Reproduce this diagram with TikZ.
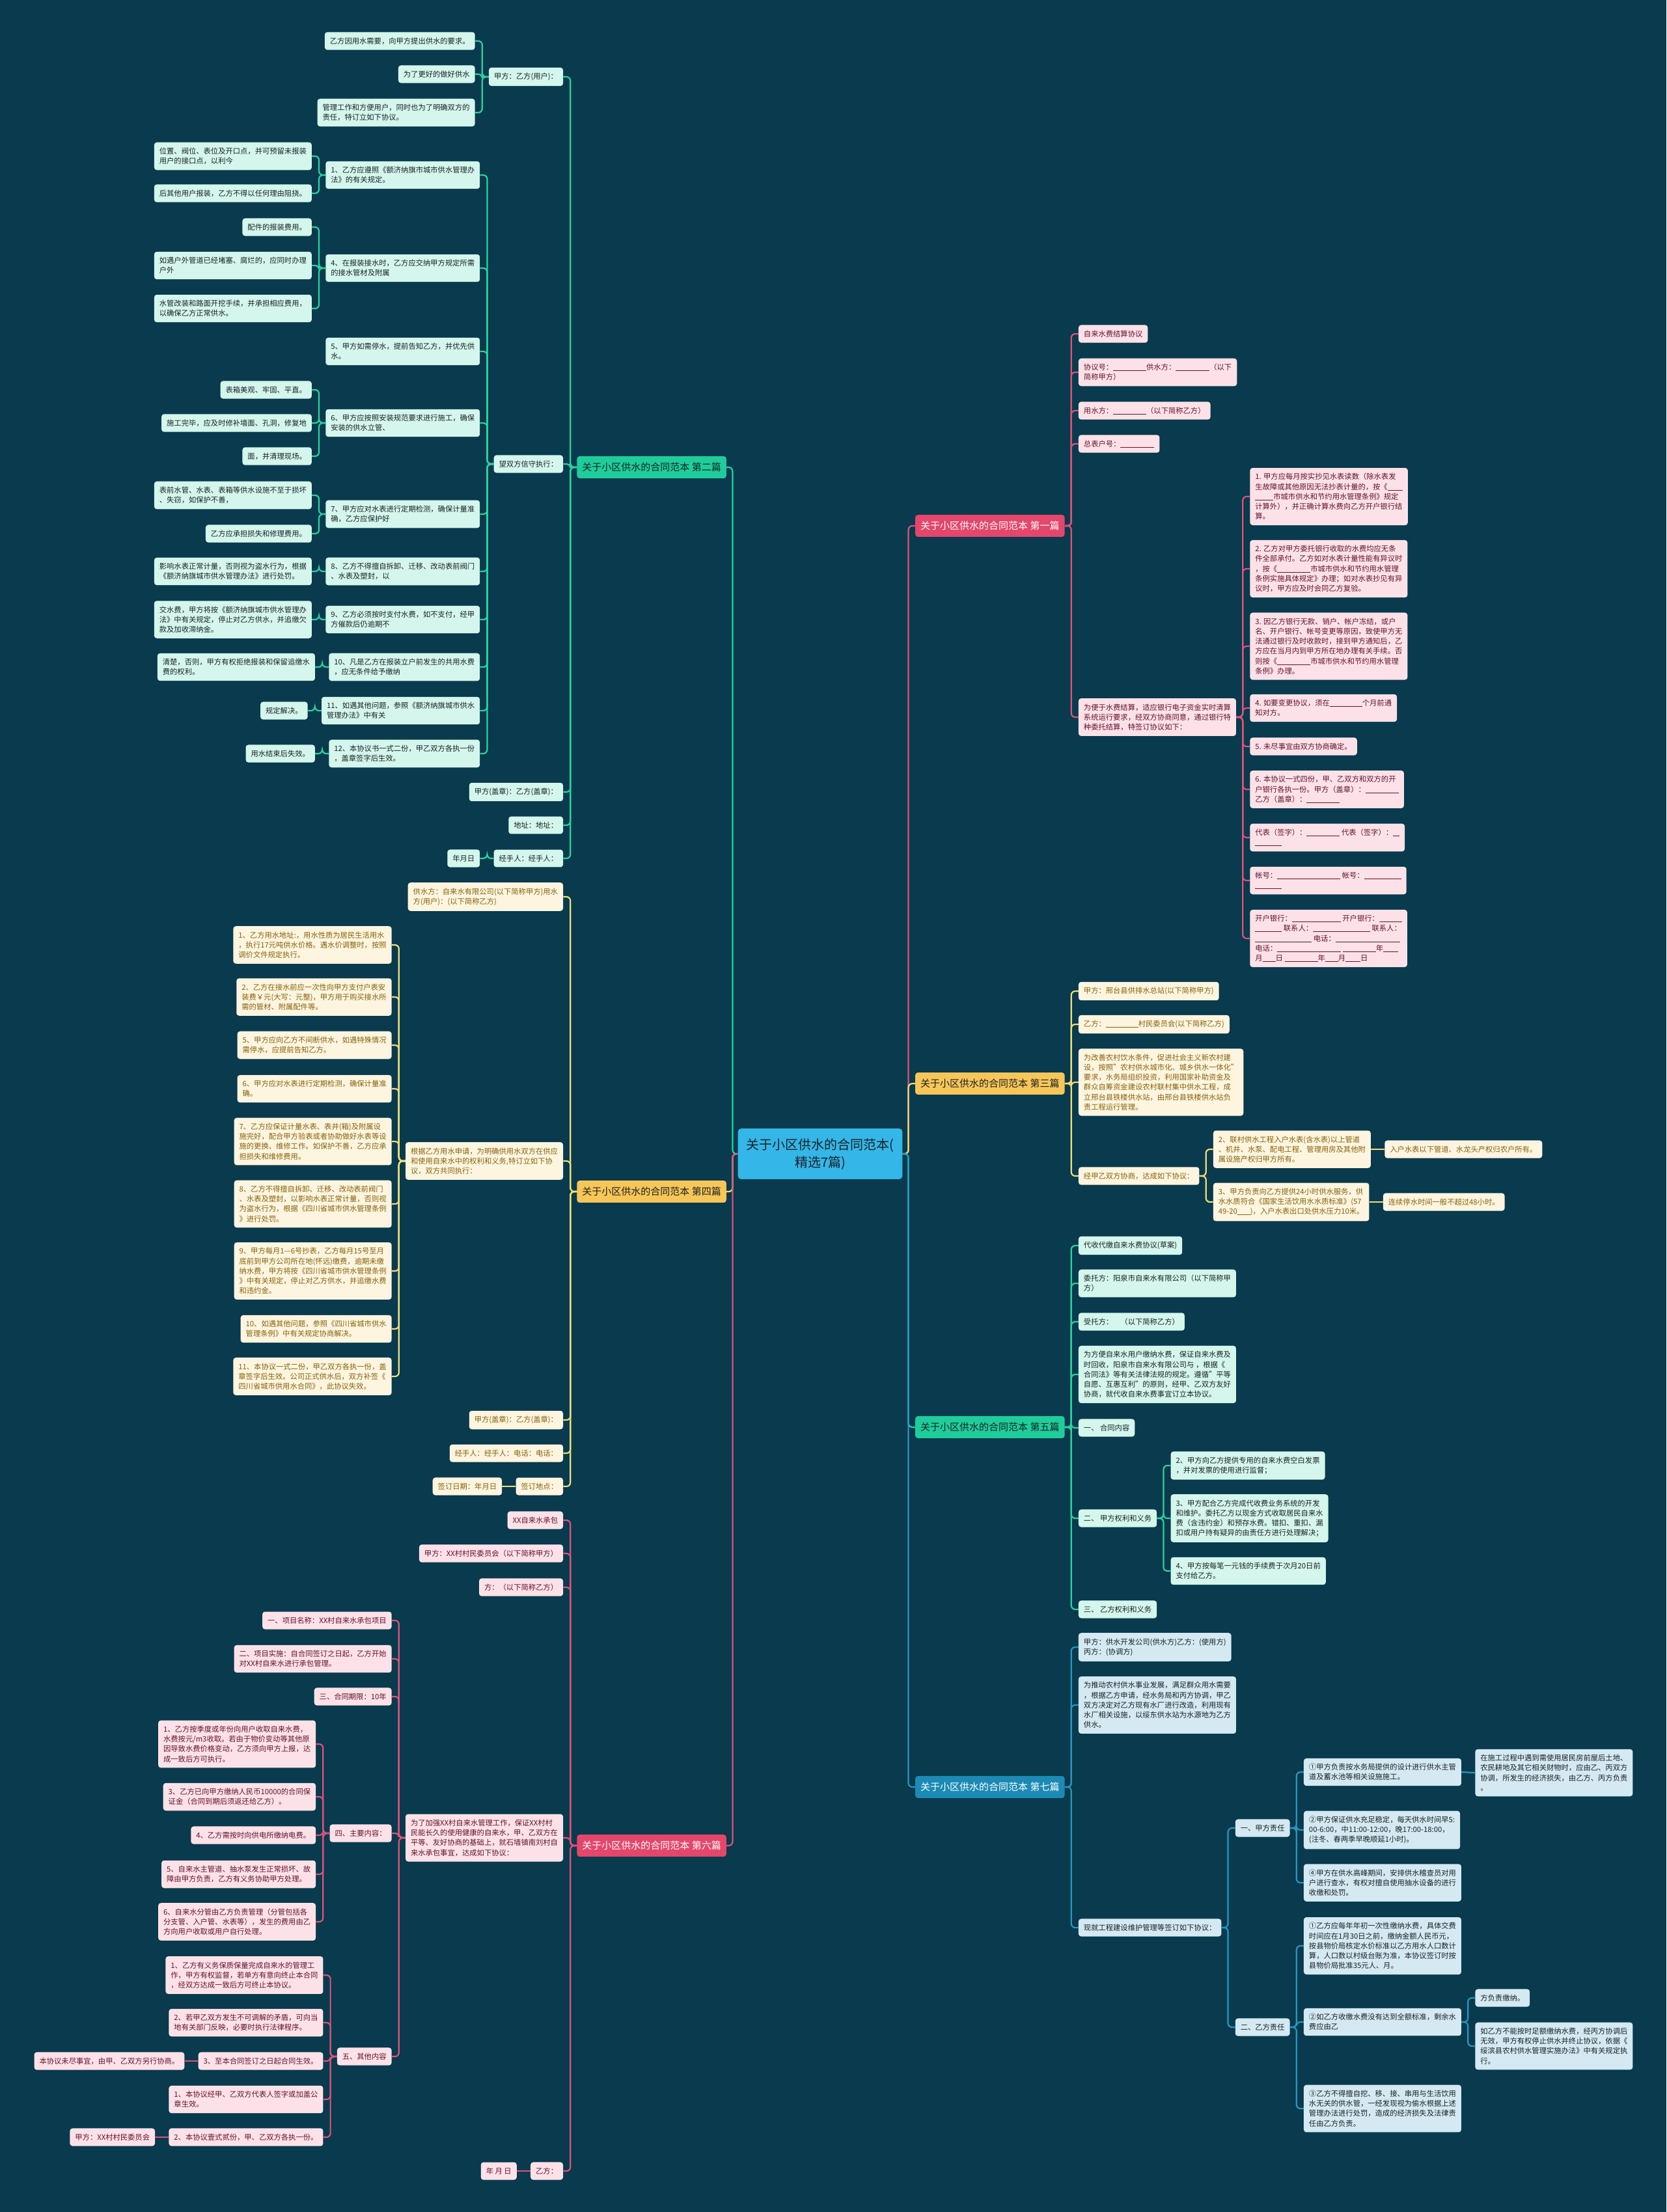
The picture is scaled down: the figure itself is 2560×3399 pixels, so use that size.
\documentclass[tikz,border=0pt]{standalone}
\usepackage{fontspec}
\setmainfont{Noto Sans CJK SC}
\usepackage{xcolor}
\definecolor{bgc}{RGB}{9,58,77}
\definecolor{dtext}{RGB}{26,34,38}
\definecolor{ctrc}{RGB}{52,182,232}
\definecolor{gline}{RGB}{40,212,160}
\definecolor{gfill}{RGB}{212,246,236}
\definecolor{gmain}{RGB}{30,205,155}
\definecolor{pline}{RGB}{222,82,122}
\definecolor{pfill}{RGB}{252,226,232}
\definecolor{pmain}{RGB}{228,70,108}
\definecolor{ptext}{RGB}{100,18,42}
\definecolor{yline}{RGB}{242,222,120}
\definecolor{yfill}{RGB}{253,245,224}
\definecolor{ymain}{RGB}{247,198,88}
\definecolor{ytext}{RGB}{135,98,10}
\definecolor{bline}{RGB}{40,150,195}
\definecolor{bfill}{RGB}{212,233,242}
\definecolor{bmain}{RGB}{28,138,180}
\newcommand{\fillin}[1]{\rule[-1.2pt]{#1pt}{0.8pt}}

\begin{document}
\begin{tikzpicture}[x=1pt,y=-1pt,
  box/.style={rounded corners=4pt,align=left,inner xsep=8pt,inner ysep=8.3pt,font=\fontsize{11.3}{15.2}\selectfont},
  gleaf/.style={box,fill=gfill,text=dtext},
  pleaf/.style={box,fill=pfill,text=ptext},
  yleaf/.style={box,fill=yfill,text=ytext},
  bleaf/.style={box,fill=bfill,text=dtext},
  branch/.style={rounded corners=4pt,inner xsep=8pt,inner ysep=10pt,font=\fontsize{15}{18}\selectfont},
  gbr/.style={branch,fill=gmain,text=dtext},
  pbr/.style={branch,fill=pmain,text=white},
  ybr/.style={branch,fill=ymain,text=dtext},
  bbr/.style={branch,fill=bmain,text=white},
  ctr/.style={rounded corners=5pt,align=center,inner xsep=13pt,inner ysep=15pt,fill=ctrc,text=dtext,font=\fontsize{20}{27}\selectfont},
  lk/.style={line width=2.2pt,rounded corners=6pt},
  glk/.style={lk,draw=gline},
  plk/.style={lk,draw=pline},
  ylk/.style={lk,draw=yline},
  blk/.style={lk,draw=bline},
  lft/.style={anchor=east,xshift=-21pt},
  rgt/.style={anchor=west,xshift=21pt}]
\fill[bgc] (0,0) rectangle (2560,3399);
\node[ctr] (top) at (1260,1773) {关于小区供水的合同范本(\\精选7篇)};

\node[gbr,anchor=east] (b2) at (1116,718) {关于小区供水的合同范本 第二篇};
\node[ybr,anchor=east] (b4) at (1116,1831) {关于小区供水的合同范本 第四篇};
\node[pbr,anchor=east] (b6) at (1116,2836) {关于小区供水的合同范本 第六篇};
\node[pbr,anchor=west] (b1) at (1406,808) {关于小区供水的合同范本 第一篇};
\node[ybr,anchor=west] (b3) at (1406,1665) {关于小区供水的合同范本 第三篇};
\node[gbr,anchor=west] (b5) at (1406,2193) {关于小区供水的合同范本 第五篇};
\node[bbr,anchor=west] (b7) at (1406,2746) {关于小区供水的合同范本 第七篇};
\draw[glk] (top.west) -- ++(-8,0) |- (b2.east);
\draw[ylk] (top.west) -- ++(-8,0) |- (b4.east);
\draw[plk] (top.west) -- ++(-8,0) |- (b6.east);
\draw[plk] (top.east) -- ++(9,0) |- (b1.west);
\draw[ylk] (top.east) -- ++(9,0) |- (b3.west);
\draw[glk] (top.east) -- ++(9,0) |- (b5.west);
\draw[blk] (top.east) -- ++(9,0) |- (b7.west);

\node[gleaf,lft] (a1) at (b2.west |- 0,118) {甲方：乙方(用户)：};
\node[gleaf,lft] (a2) at (b2.west |- 0,713) {望双方信守执行：};
\node[gleaf,lft] (a3) at (b2.west |- 0,1217) {甲方(盖章)：乙方(盖章)：};
\node[gleaf,lft] (a4) at (b2.west |- 0,1268) {地址：地址：};
\node[gleaf,lft] (a5) at (b2.west |- 0,1319) {经手人：经手人：};
\node[gleaf,lft] (a5a) at (a5.west |- 0,1319) {年月日};
\node[gleaf,lft] (a1a) at (a1.west |- 0,63) {乙方因用水需要，向甲方提出供水的要求。};
\node[gleaf,lft] (a1b) at (a1.west |- 0,114) {为了更好的做好供水};
\node[gleaf,lft] (a1c) at (a1.west |- 0,173) {管理工作和方便用户，同时也为了明确双方的\\责任，特订立如下协议。};
\node[gleaf,lft] (c1) at (a2.west |- 0,269) {1、乙方应遵照《额济纳旗市城市供水管理办\\法》的有关规定。};
\node[gleaf,lft] (c4) at (a2.west |- 0,412) {4、在报装接水时，乙方应交纳甲方规定所需\\的接水管材及附属};
\node[gleaf,lft] (c5) at (a2.west |- 0,540) {5、甲方如需停水，提前告知乙方，并优先供\\水。};
\node[gleaf,lft] (c6) at (a2.west |- 0,650) {6、甲方应按照安装规范要求进行施工，确保\\安装的供水立管、};
\node[gleaf,lft] (c7) at (a2.west |- 0,790) {7、甲方应对水表进行定期检测，确保计量准\\确，乙方应保护好};
\node[gleaf,lft] (c8) at (a2.west |- 0,878) {8、乙方不得擅自拆卸、迁移、改动表前阀门\\、水表及塑封，以};
\node[gleaf,lft] (c9) at (a2.west |- 0,952) {9、乙方必须按时支付水费，如不支付，经甲\\方催款后仍逾期不};
\node[gleaf,lft] (c10) at (a2.west |- 0,1025) {10、凡是乙方在报装立户前发生的共用水费\\，应无条件给予缴纳};
\node[gleaf,lft] (c11) at (a2.west |- 0,1092) {11、如遇其他问题，参照《额济纳旗城市供水\\管理办法》中有关};
\node[gleaf,lft] (c12) at (a2.west |- 0,1158) {12、本协议书一式二份，甲乙双方各执一份\\，盖章签字后生效。};
\node[gleaf,lft] (c1a) at (c1.west |- 0,240) {位置、阀位、表位及开口点，并可预留未报装\\用户的接口点，以利今};
\node[gleaf,lft] (c1b) at (c1.west |- 0,297) {后其他用户报装，乙方不得以任何理由阻挠。};
\node[gleaf,lft] (c4a) at (c4.west |- 0,349) {配件的报装费用。};
\node[gleaf,lft] (c4b) at (c4.west |- 0,408) {如遇户外管道已经堵塞、腐烂的，应同时办理\\户外};
\node[gleaf,lft] (c4c) at (c4.west |- 0,474) {水管改装和路面开挖手续，并承担相应费用，\\以确保乙方正常供水。};
\node[gleaf,lft] (c6a) at (c6.west |- 0,599) {表箱美观、牢固、平直。};
\node[gleaf,lft] (c6b) at (c6.west |- 0,650) {施工完毕，应及时修补墙面、孔洞，修复地};
\node[gleaf,lft] (c6c) at (c6.west |- 0,701) {面，并清理现场。};
\node[gleaf,lft] (c7a) at (c7.west |- 0,761) {表前水管、水表、表箱等供水设施不至于损坏\\、失窃，如保护不善，};
\node[gleaf,lft] (c7b) at (c7.west |- 0,820) {乙方应承担损失和修理费用。};
\node[gleaf,lft] (c8a) at (c8.west |- 0,878) {影响水表正常计量，否则视为盗水行为，根据\\《额济纳旗城市供水管理办法》进行处罚。};
\node[gleaf,lft] (c9a) at (c9.west |- 0,952) {交水费，甲方将按《额济纳旗城市供水管理办\\法》中有关规定，停止对乙方供水，并追缴欠\\款及加收滞纳金。};
\node[gleaf,lft] (c10a) at (c10.west |- 0,1025) {清楚，否则，甲方有权拒绝报装和保留追缴水\\费的权利。};
\node[gleaf,lft] (c11a) at (c11.west |- 0,1092) {规定解决。};
\node[gleaf,lft] (c12a) at (c12.west |- 0,1158) {用水结束后失效。};
\foreach \c in {a1,a2,a3,a4,a5} \draw[glk] (b2.west) -- ++(-10,0) |- (\c.east);
\foreach \c in {a1a,a1b,a1c} \draw[glk] (a1.west) -- ++(-10,0) |- (\c.east);
\foreach \c in {c1,c4,c5,c6,c7,c8,c9,c10,c11,c12} \draw[glk] (a2.west) -- ++(-10,0) |- (\c.east);
\foreach \p/\c in {a5/a5a,c1/c1a,c1/c1b,c4/c4a,c4/c4b,c4/c4c,c6/c6a,c6/c6b,c6/c6c,c7/c7a,c7/c7b,c8/c8a,c9/c9a,c10/c10a,c11/c11a,c12/c12a}
  \draw[glk] (\p.west) -- ++(-10,0) |- (\c.east);

\node[yleaf,lft] (d1) at (b4.west |- 0,1378) {供水方：自来水有限公司(以下简称甲方)用水\\方(用户)：(以下简称乙方)};
\node[yleaf,lft] (d2) at (b4.west |- 0,1784) {根据乙方用水申请，为明确供用水双方在供应\\和使用自来水中的权利和义务,特订立如下协\\议，双方共同执行：};
\node[yleaf,lft] (d3) at (b4.west |- 0,2182) {甲方(盖章)：乙方(盖章)：};
\node[yleaf,lft] (d4) at (b4.west |- 0,2233) {经手人：经手人：电话：电话：};
\node[yleaf,lft] (d5) at (b4.west |- 0,2284) {签订地点：};
\node[yleaf,lft] (d5a) at (d5.west |- 0,2284) {签订日期：年月日};
\node[yleaf,lft] (e1) at (d2.west |- 0,1452) {1、乙方用水地址:，用水性质为居民生活用水\\，执行17元吨供水价格。遇水价调整时，按照\\调价文件规定执行。};
\node[yleaf,lft] (e2) at (d2.west |- 0,1532) {2、乙方在接水前应一次性向甲方支付户表安\\装费￥元(大写：元整)，甲方用于购买接水所\\需的管材、附属配件等。};
\node[yleaf,lft] (e5) at (d2.west |- 0,1606) {5、甲方应向乙方不间断供水，如遇特殊情况\\需停水，应提前告知乙方。};
\node[yleaf,lft] (e6) at (d2.west |- 0,1673) {6、甲方应对水表进行定期检测，确保计量准\\确。};
\node[yleaf,lft] (e7) at (d2.west |- 0,1754) {7、乙方应保证计量水表、表井(箱)及附属设\\施完好，配合甲方验表或者协助做好水表等设\\施的更换、维修工作。如保护不善，乙方应承\\担损失和维修费用。};
\node[yleaf,lft] (e8) at (d2.west |- 0,1850) {8、乙方不得擅自拆卸、迁移、改动表前阀门\\、水表及塑封，以影响水表正常计量，否则视\\为盗水行为，根据《四川省城市供水管理条例\\》进行处罚。};
\node[yleaf,lft] (e9) at (d2.west |- 0,1953) {9、甲方每月1—6号抄表，乙方每月15号至月\\底前到甲方公司所在地(怀远)缴费，逾期未缴\\纳水费，甲方将按《四川省城市供水管理条例\\》中有关规定，停止对乙方供水，并追缴水费\\和违约金。};
\node[yleaf,lft] (e10) at (d2.west |- 0,2042) {10、如遇其他问题，参照《四川省城市供水\\管理条例》中有关规定协商解决。};
\node[yleaf,lft] (e11) at (d2.west |- 0,2115) {11、本协议一式二份，甲乙双方各执一份，盖\\章签字后生效。公司正式供水后，双方补签《\\四川省城市供用水合同》，此协议失效。};
\foreach \c in {d1,d2,d3,d4,d5} \draw[ylk] (b4.west) -- ++(-10,0) |- (\c.east);
\foreach \c in {e1,e2,e5,e6,e7,e8,e9,e10,e11} \draw[ylk] (d2.west) -- ++(-10,0) |- (\c.east);
\draw[ylk] (d5.west) -- (d5a.east);

\node[pleaf,lft] (f1) at (b6.west |- 0,2336) {XX自来水承包};
\node[pleaf,lft] (f2) at (b6.west |- 0,2387) {甲方：XX村村民委员会（以下简称甲方）};
\node[pleaf,lft] (f3) at (b6.west |- 0,2439) {方：（以下简称乙方）};
\node[pleaf,lft] (f4) at (b6.west |- 0,2824) {为了加强XX村自来水管理工作，保证XX村村\\民能长久的使用健康的自来水，甲、乙双方在\\平等、友好协商的基础上，就石墙镇南刘村自\\来水承包事宜，达成如下协议：};
\node[pleaf,lft] (f5) at (b6.west |- 0,3336) {乙方：};
\node[pleaf,lft] (f5a) at (f5.west |- 0,3336) {年 月 日};
\node[pleaf,lft] (g1) at (f4.west |- 0,2490) {一、项目名称：XX村自来水承包项目};
\node[pleaf,lft] (g2) at (f4.west |- 0,2549) {二、项目实施：自合同签订之日起，乙方开始\\对XX村自来水进行承包管理。};
\node[pleaf,lft] (g3) at (f4.west |- 0,2607) {三、合同期限：10年};
\node[pleaf,lft] (g4) at (f4.west |- 0,2817) {四、主要内容：};
\node[pleaf,lft] (g5) at (f4.west |- 0,3160) {五、其他内容};
\node[pleaf,lft] (h1) at (g4.west |- 0,2680) {1、乙方按季度或年份向用户收取自来水费，\\水费按元/m3收取。若由于物价变动等其他原\\因导致水费价格变动，乙方须向甲方上报，达\\成一致后方可执行。};
\node[pleaf,lft] (h3) at (g4.west |- 0,2761) {3、乙方已向甲方缴纳人民币10000的合同保\\证金（合同到期后须返还给乙方）。};
\node[pleaf,lft] (h4) at (g4.west |- 0,2820) {4、乙方需按时向供电所缴纳电费。};
\node[pleaf,lft] (h5) at (g4.west |- 0,2880) {5、自来水主管道、抽水泵发生正常损坏、故\\障由甲方负责，乙方有义务协助甲方处理。};
\node[pleaf,lft] (h6) at (g4.west |- 0,2953) {6、自来水分管由乙方负责管理（分管包括各\\分支管、入户管、水表等），发生的费用由乙\\方向用户收取或用户自行处理。};
\node[pleaf,lft] (k1) at (g5.west |- 0,3035) {1、乙方有义务保质保量完成自来水的管理工\\作，甲方有权监督，若单方有意向终止本合同\\，经双方达成一致后方可终止本协议。};
\node[pleaf,lft] (k2) at (g5.west |- 0,3108) {2、若甲乙双方发生不可调解的矛盾，可向当\\地有关部门反映，必要时执行法律程序。};
\node[pleaf,lft] (k3) at (g5.west |- 0,3167) {3、至本合同签订之日起合同生效。};
\node[pleaf,lft] (k4) at (g5.west |- 0,3226) {1、本协议经甲、乙双方代表人签字或加盖公\\章生效。};
\node[pleaf,lft] (k5) at (g5.west |- 0,3284) {2、本协议壹式贰份，甲、乙双方各执一份。};
\node[pleaf,lft] (k3a) at (k3.west |- 0,3167) {本协议未尽事宜，由甲、乙双方另行协商。};
\node[pleaf,lft] (k5a) at (k5.west |- 0,3284) {甲方：XX村村民委员会};
\foreach \c in {f1,f2,f3,f4,f5} \draw[plk] (b6.west) -- ++(-10,0) |- (\c.east);
\foreach \c in {g1,g2,g3,g4,g5} \draw[plk] (f4.west) -- ++(-10,0) |- (\c.east);
\foreach \c in {h1,h3,h4,h5,h6} \draw[plk] (g4.west) -- ++(-10,0) |- (\c.east);
\foreach \c in {k1,k2,k3,k4,k5} \draw[plk] (g5.west) -- ++(-10,0) |- (\c.east);
\foreach \p/\c in {f5/f5a,k3/k3a,k5/k5a} \draw[plk] (\p.west) -- (\c.east);

\node[pleaf,rgt] (m1) at (b1.east |- 0,513) {自来水费结算协议};
\node[pleaf,rgt] (m2) at (b1.east |- 0,572) {协议号：\fillin{51}供水方：\fillin{52}（以下\\简称甲方）};
\node[pleaf,rgt] (m3) at (b1.east |- 0,631) {用水方：\fillin{51}（以下简称乙方）};
\node[pleaf,rgt] (m4) at (b1.east |- 0,682) {总表户号：\fillin{52}};
\node[pleaf,rgt] (m5) at (b1.east |- 0,1102) {为便于水费结算，适应银行电子资金实时清算\\系统运行要求，经双方协商同意，通过银行特\\种委托结算，特签订协议如下：};
\node[pleaf,rgt] (n1) at (m5.east |- 0,763) {1. 甲方应每月按实抄见水表读数（除水表发\\生故障或其他原因无法抄表计量的，按《\fillin{23}\\\fillin{28}市城市供水和节约用水管理条例》规定\\计算外），并正确计算水费向乙方开户银行结\\算。};
\node[pleaf,rgt] (n2) at (m5.east |- 0,874) {2. 乙方对甲方委托银行收取的水费均应无条\\件全部承付。乙方如对水表计量性能有异议时\\，按《\fillin{51}市城市供水和节约用水管理\\条例实施具体规定》办理；如对水表抄见有异\\议时，甲方应及时会同乙方复验。};
\node[pleaf,rgt] (n3) at (m5.east |- 0,993) {3. 因乙方银行无款、销户、帐户冻结，或户\\名、开户银行、帐号变更等原因，致使甲方无\\法通过银行及时收款时，接到甲方通知后，乙\\方应在当月内到甲方所在地办理有关手续。否\\则按《\fillin{51}市城市供水和节约用水管理\\条例》办理。};
\node[pleaf,rgt] (n4) at (m5.east |- 0,1088) {4. 如要变更协议，须在\fillin{50}个月前通\\知对方。};
\node[pleaf,rgt] (n5) at (m5.east |- 0,1147) {5. 未尽事宜由双方协商确定。};
\node[pleaf,rgt] (n6) at (m5.east |- 0,1213) {6. 本协议一式四份，甲、乙双方和双方的开\\户银行各执一份。甲方（盖章）：\fillin{51}\\乙方（盖章）：\fillin{51}};
\node[pleaf,rgt] (n7) at (m5.east |- 0,1287) {代表（签字）：\fillin{51} 代表（签字）：\fillin{10}\\\fillin{41}};
\node[pleaf,rgt] (n8) at (m5.east |- 0,1353) {帐号：\fillin{97} 帐号：\fillin{57}\\\fillin{41}};
\node[pleaf,rgt] (n9) at (m5.east |- 0,1442) {开户银行：\fillin{75} 开户银行：\fillin{35}\\\fillin{41} 联系人：\fillin{88} 联系人：\\\fillin{87} 电话：\fillin{99}\\电话：\fillin{98} \fillin{51}年\fillin{23}\\月\fillin{20}日 \fillin{51}年\fillin{20}月\fillin{23}日};
\foreach \c in {m1,m2,m3,m4,m5} \draw[plk] (b1.east) -- ++(10,0) |- (\c.west);
\foreach \c in {n1,n2,n3,n4,n5,n6,n7,n8,n9} \draw[plk] (m5.east) -- ++(10,0) |- (\c.west);

\node[yleaf,rgt] (p1) at (b3.east |- 0,1523) {甲方：邢台县供排水总站(以下简称甲方)};
\node[yleaf,rgt] (p2) at (b3.east |- 0,1574) {乙方：\fillin{50}村民委员会(以下简称乙方)};
\node[yleaf,rgt] (p3) at (b3.east |- 0,1663) {为改善农村饮水条件，促进社会主义新农村建\\设，按照"农村供水城市化、城乡供水一体化"\\要求，水务局组织投资，利用国家补助资金及\\群众自筹资金建设农村联村集中供水工程，成\\立邢台县铁楼供水站，由邢台县铁楼供水站负\\责工程运行管理。};
\node[yleaf,rgt] (p4) at (b3.east |- 0,1807) {经甲乙双方协商，达成如下协议：};
\node[yleaf,rgt] (q2) at (p4.east |- 0,1766) {2、联村供水工程入户水表(含水表)以上管道\\、机井、水泵、配电工程、管理用房及其他附\\属设施产权归甲方所有。};
\node[yleaf,rgt] (q3) at (p4.east |- 0,1847) {3、甲方负责向乙方提供24小时供水服务，供\\水水质符合《国家生活饮用水水质标准》(57\\49-20\fillin{20})，入户水表出口处供水压力10米。};
\node[yleaf,rgt] (q2a) at (q2.east |- 0,1766) {入户水表以下管道、水龙头产权归农户所有。};
\node[yleaf,rgt] (q3a) at (q3.east |- 0,1847) {连续停水时间一般不超过48小时。};
\foreach \c in {p1,p2,p3,p4} \draw[ylk] (b3.east) -- ++(10,0) |- (\c.west);
\foreach \c in {q2,q3} \draw[ylk] (p4.east) -- ++(10,0) |- (\c.west);
\foreach \p/\c in {q2/q2a,q3/q3a} \draw[ylk] (\p.east) -- (\c.west);

\node[gleaf,rgt] (r1) at (b5.east |- 0,1914) {代收代缴自来水费协议(草案)};
\node[gleaf,rgt] (r2) at (b5.east |- 0,1972) {委托方：阳泉市自来水有限公司（以下简称甲\\方）};
\node[gleaf,rgt] (r3) at (b5.east |- 0,2031) {受托方：　（以下简称乙方）};
\node[gleaf,rgt] (r4) at (b5.east |- 0,2112) {为方便自来水用户缴纳水费，保证自来水费及\\时回收，阳泉市自来水有限公司与 ，根据《\\合同法》等有关法律法规的规定。遵循"平等\\自愿、互惠互利"的原则，经甲、乙双方友好\\协商，就代收自来水费事宜订立本协议。};
\node[gleaf,rgt] (r5) at (b5.east |- 0,2194) {一、 合同内容};
\node[gleaf,rgt] (r6) at (b5.east |- 0,2333) {二、 甲方权利和义务};
\node[gleaf,rgt] (r7) at (b5.east |- 0,2473) {三、 乙方权利和义务};
\node[gleaf,rgt] (s2) at (r6.east |- 0,2252) {2、甲方向乙方提供专用的自来水费空白发票\\，并对发票的使用进行监督；};
\node[gleaf,rgt] (s3) at (r6.east |- 0,2333) {3、甲方配合乙方完成代收费业务系统的开发\\和维护。委托乙方以现金方式收取居民自来水\\费（含违约金）和预存水费。错扣、重扣、漏\\扣或用户持有疑异的由责任方进行处理解决；};
\node[gleaf,rgt] (s4) at (r6.east |- 0,2414) {4、甲方按每笔一元钱的手续费于次月20日前\\支付给乙方。};
\foreach \c in {r1,r2,r3,r4,r5,r6,r7} \draw[glk] (b5.east) -- ++(10,0) |- (\c.west);
\foreach \c in {s2,s3,s4} \draw[glk] (r6.east) -- ++(10,0) |- (\c.west);

\node[bleaf,rgt] (t1) at (b7.east |- 0,2531) {甲方：供水开发公司(供水方)乙方：(使用方)\\丙方：(协调方)};
\node[bleaf,rgt] (t2) at (b7.east |- 0,2620) {为推动农村供水事业发展，满足群众用水需要\\，根据乙方申请，经水务局和丙方协调，甲乙\\双方决定对乙方现有水厂进行改造，利用现有\\水厂相关设施，以绥东供水站为水源地为乙方\\供水。};
\node[bleaf,rgt] (t3) at (b7.east |- 0,2962) {现就工程建设维护管理等签订如下协议：};
\node[bleaf,rgt] (u1) at (t3.east |- 0,2809) {一、甲方责任};
\node[bleaf,rgt] (u2) at (t3.east |- 0,3115) {二、乙方责任};
\node[bleaf,rgt] (v1) at (u1.east |- 0,2723) {①甲方负责按水务局提供的设计进行供水主管\\道及蓄水池等相关设施施工。};
\node[bleaf,rgt] (v2) at (u1.east |- 0,2812) {②甲方保证供水充足稳定，每天供水时间早5:\\00-6:00，中11:00-12:00，晚17:00-18:00，\\(注冬、春两季早晚顺延1小时)。};
\node[bleaf,rgt] (v4) at (u1.east |- 0,2893) {④甲方在供水高峰期间，安排供水稽查员对用\\户进行查水，有权对擅自使用抽水设备的进行\\收缴和处罚。};
\node[bleaf,rgt] (v1a) at (v1.east |- 0,2724) {在施工过程中遇到需使用居民房前屋后土地、\\农民耕地及其它相关财物时，应由乙、丙双方\\协调，所发生的经济损失，由乙方、丙方负责\\。};
\node[bleaf,rgt] (w1) at (u2.east |- 0,2990) {①乙方应每年年初一次性缴纳水费，具体交费\\时间应在1月30日之前，缴纳金额人民币元，\\按县物价局核定水价标准以乙方用水人口数计\\算，人口数以村级台账为准，本协议签订时按\\县物价局批准35元人、月。};
\node[bleaf,rgt] (w2) at (u2.east |- 0,3107) {②如乙方收缴水费没有达到全额标准，剩余水\\费应由乙};
\node[bleaf,rgt] (w3) at (u2.east |- 0,3240) {③乙方不得擅自挖、移、接、串用与生活饮用\\水无关的供水管，一经发现视为偷水根据上述\\管理办法进行处罚，造成的经济损失及法律责\\任由乙方负责。};
\node[bleaf,rgt] (w2a) at (w2.east |- 0,3070) {方负责缴纳。};
\node[bleaf,rgt] (w2b) at (w2.east |- 0,3144) {如乙方不能按时足额缴纳水费，经丙方协调后\\无效，甲方有权停止供水并终止协议，依据《\\绥滨县农村供水管理实施办法》中有关规定执\\行。};
\foreach \c in {t1,t2,t3} \draw[blk] (b7.east) -- ++(10,0) |- (\c.west);
\foreach \c in {u1,u2} \draw[blk] (t3.east) -- ++(10,0) |- (\c.west);
\foreach \c in {v1,v2,v4} \draw[blk] (u1.east) -- ++(10,0) |- (\c.west);
\foreach \c in {w1,w2,w3} \draw[blk] (u2.east) -- ++(10,0) |- (\c.west);
\foreach \c in {w2a,w2b} \draw[blk] (w2.east) -- ++(10,0) |- (\c.west);
\draw[blk] (v1.east) -- (v1a.west);
\end{tikzpicture}
\end{document}
